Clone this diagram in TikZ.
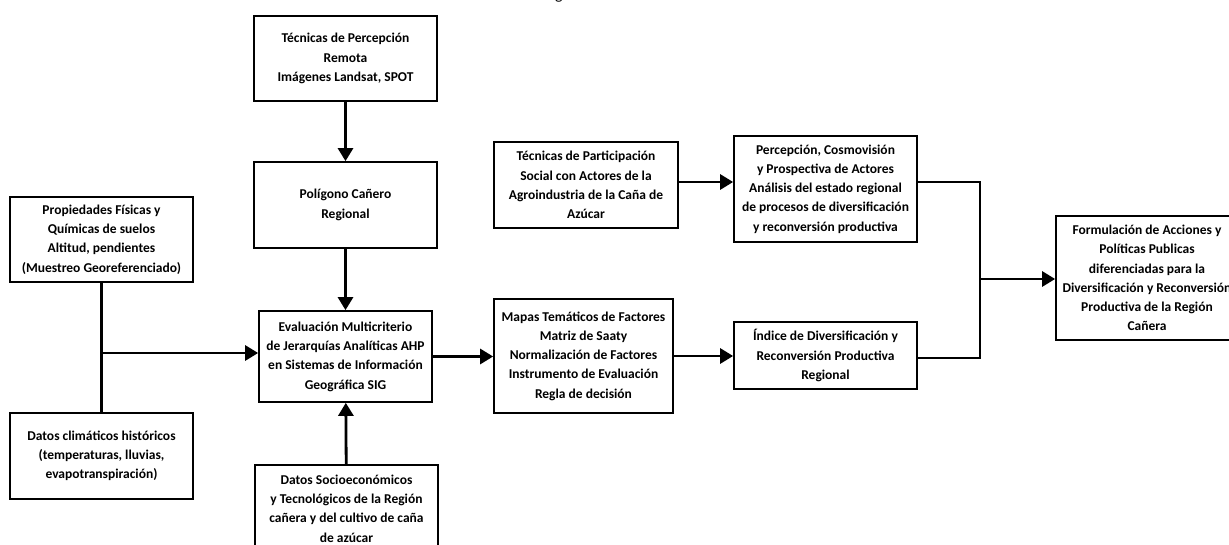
\documentclass[tikz,border=0pt]{standalone}
\usepackage{fontspec}
\setmainfont{Carlito}
\usetikzlibrary{arrows.meta}

\tikzset{
  caja/.style={draw, line width=1.7pt, align=center, inner sep=0pt,
    font=\bfseries\fontsize{13.5}{19.3}\selectfont},
  flecha/.style={line width=2.8pt, -{Triangle[length=13pt,width=15pt]}},
  linea/.style={line width=2.8pt}
}

\begin{document}
\begin{tikzpicture}[x=1pt,y=-1pt]
  \useasboundingbox (0,0) rectangle (1229,545);

  % resto del titulo
  \node[font=\fontsize{16}{19}\selectfont, anchor=base] (titulo) at (559,0) {g};

  % columna central
  \node[caja, minimum width=183pt, minimum height=85pt] (remota) at (345.5,58.5)
    {Técnicas de Percepción\\Remota\\Imágenes Landsat, SPOT};
  \node[caja, minimum width=183pt, minimum height=86pt] (poligono) at (345.5,205)
    {Polígono Cañero\\Regional};
  \node[caja, minimum width=173pt, minimum height=91pt] (ahp) at (345.5,356.5)
    {Evaluación Multicriterio\\de Jerarquías Analíticas AHP\\en Sistemas de Información\\Geográfica SIG};
  \node[caja, minimum width=183pt, minimum height=87pt] (socio) at (346.5,508.5)
    {Datos Socioeconómicos\\y Tecnológicos de la Región\\cañera y del cultivo de caña\\de azúcar};

  % columna izquierda
  \node[caja, minimum width=183pt, minimum height=85pt] (suelos) at (101.5,239.5)
    {Propiedades Físicas y\\Químicas de suelos\\Altitud, pendientes\\(Muestreo Georeferenciado)};
  \node[caja, minimum width=183pt, minimum height=86pt] (clima) at (101.5,456)
    {Datos climáticos históricos\\(temperaturas, lluvias,\\evapotranspiración)};

  % columnas derechas
  \node[caja, minimum width=184pt, minimum height=86pt] (participacion) at (586,185)
    {Técnicas de Participación\\Social con Actores de la\\Agroindustria de la Caña de\\Azúcar};
  \node[caja, minimum width=179pt, minimum height=114pt] (mapas) at (583.5,356)
    {Mapas Temáticos de Factores\\Matriz de Saaty\\Normalización de Factores\\Instrumento de Evaluación\\Regla de decisión};
  \node[caja, minimum width=183pt, minimum height=106pt] (percepcion) at (825.5,189)
    {Percepción, Cosmovisión\\y Prospectiva de Actores\\Análisis del estado regional\\de procesos de diversificación\\y reconversión productiva};
  \node[caja, minimum width=183pt, minimum height=67pt] (indice) at (825.5,355.5)
    {Índice de Diversificación y\\Reconversión Productiva\\Regional};
  \node[caja, minimum width=182pt, minimum height=124pt] (formulacion) at (1147,278)
    {Formulación de Acciones y\\Políticas Publicas\\diferenciadas para la\\Diversificación y Reconversión\\Productiva de la Región\\Cañera};

  \coordinate (union) at (102,353);
  \coordinate (nudo) at (980,279);

  % conexiones
  \draw[flecha] (remota) -- (poligono);
  \draw[flecha] (poligono) -- (ahp);
  \draw[flecha] (socio) -- (ahp);
  \draw[linea] (suelos) -- (clima);
  \draw[flecha] (union) -- (union -| ahp.west);
  \draw[flecha] (ahp.east) -- (ahp.east -| mapas.west);
  \draw[flecha] (mapas.east) -- (mapas.east -| indice.west);
  \draw[flecha] (participacion.east |- 0,182) -- (percepcion.west |- 0,182);
  \draw[linea] (percepcion.east |- 0,182) -| (nudo);
  \draw[linea] (indice.east |- 0,358) -| (nudo);
  \draw[flecha] (nudo) -- (nudo -| formulacion.west);
\end{tikzpicture}
\end{document}
